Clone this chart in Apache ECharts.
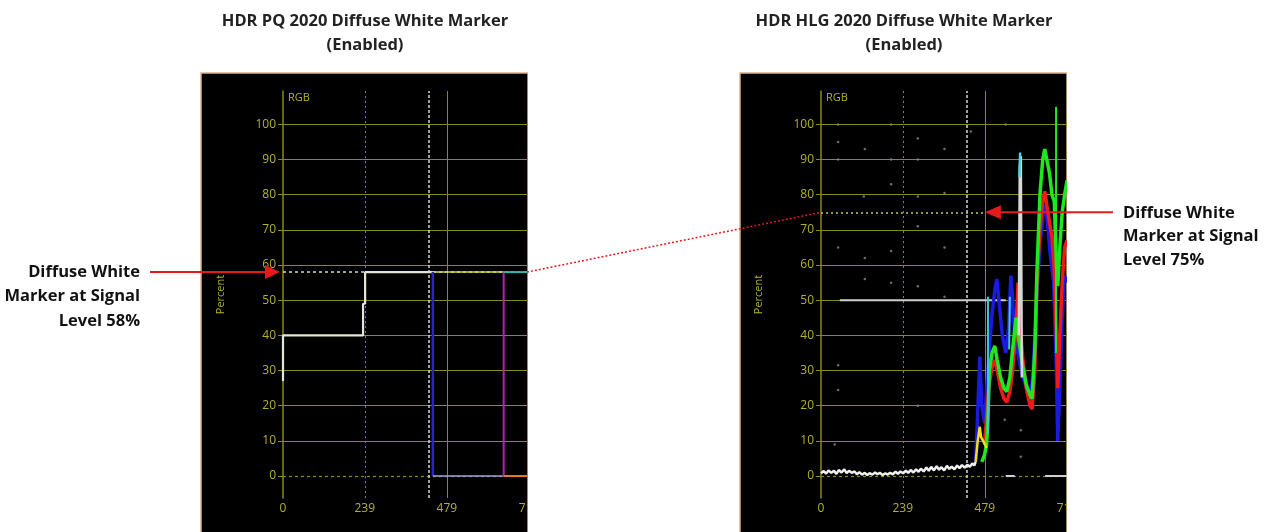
<!DOCTYPE html>
<html><head><meta charset="utf-8">
<script src="https://cdn.jsdelivr.net/npm/echarts@6/dist/echarts.min.js"></script>
<style>html,body{margin:0;padding:0;background:#fff}#c{width:1273px;height:532px}</style>
</head><body><div id="c"></div>
<script>
// ---- tick labels ----
const yTicks = [0,10,20,30,40,50,60,70,80,90,100];
const xTicks = [0,239,479,719];
const titles = [["HDR PQ 2020 Diffuse White Marker","(Enabled)"],["HDR HLG 2020 Diffuse White Marker","(Enabled)"]];
const notes = [["Diffuse White","Marker at Signal","Level 58%"],["Diffuse White","Marker at Signal","Level 75%"]];
const markerLevels = [58, 75];
const cursorX = 427;
const hlgMarkerEnd = 479;

// ---- PQ panel traces ----
const pqWhite = [[0,27],[0,40],[234,40],[234,49],[240,49],[240,58],[438,58]];
const pqYellow = [[438,58],[645,58]];
const pqBlueDrop = [[438,58],[438,0]];
const pqZero = [[438,0],[645,0]];
const pqMagentaDrop = [[645,58],[645,0]];
const pqCyan = [[645,58],[719,58]];
const pqOrange = [[645,0],[719,0]];

// ---- HLG panel traces ----
const hlgWhiteLow = [[0,0.8],[8,1.4],[15,0.7],[22,1.6],[30,0.9],[38,1.5],[45,0.6],[52,1.7],[60,1.0],[68,1.9],[75,0.8],[82,1.5],[90,0.9],[98,1.3],[105,0.5],[112,1.1],[120,0.4],[128,0.9],[135,0.3],[142,0.8],[150,0.4],[158,1.0],[165,0.5],[172,0.9],[180,0.3],[188,0.8],[195,0.4],[202,0.9],[210,0.5],[218,1.2],[225,0.6],[232,1.3],[240,0.8],[248,1.5],[255,0.9],[262,1.7],[270,1.0],[278,1.9],[285,1.2],[292,2.1],[300,1.3],[308,2.4],[315,1.5],[322,2.6],[330,1.6],[338,2.8],[345,1.8],[352,2.5],[360,1.6],[368,2.9],[375,2.0],[382,2.7],[390,1.9],[398,3.0],[405,2.2],[412,3.1],[420,2.4],[428,3.2],[435,2.6],[442,3.6],[448,3.0],[452,4.0]];
const hlgWhite50 = [[55,50],[540,50]];
const hlgBlue = [[452,4],[458,18],[464,34],[470,20],[478,15],[485,26],[492,36],[500,46],[508,53],[514,56],[520,50],[530,40],[540,35],[548,42],[555,57],[560,50],[566,40],[575,35],[585,30],[600,25],[612,22],[620,30],[630,50],[640,66],[650,75],[656,77],[662,72],[670,63],[680,55],[688,30],[692,10],[698,25],[705,45],[712,57],[719,55]];
const hlgRed = [[478,9],[485,18],[490,25],[495,28],[500,31],[508,33],[515,30],[525,25],[535,22],[543,21],[552,24],[560,30],[570,42],[576,55],[580,45],[590,33],[600,25],[611,20],[617,19],[625,30],[631,55],[640,70],[648,78],[654,81],[660,77],[668,72],[675,68],[682,58],[688,40],[692,25],[698,40],[705,55],[712,65],[719,67]];
const hlgGreen = [[470,4],[478,6],[484,9],[488,16],[492,30],[500,35],[508,37],[515,33],[525,28],[535,25],[543,24],[552,28],[560,36],[570,45],[576,40],[590,31],[600,26],[611,23],[617,22],[625,36],[631,58],[640,80],[648,90],[654,93],[660,90],[668,86],[675,80],[682,78],[688,60],[692,54],[698,65],[705,75],[712,80],[719,84]];
const hlgGreenSpike = [[687,35],[687,105]];
const hlgYellow = [[452,4],[458,10],[464,14],[468,11],[474,10],[479,9],[484,8]];
const hlgCyan1 = [[488,12],[488,51]];
const hlgCyan2 = [[550,36],[552,51]];
const hlgWhiteSpike = [[578,40],[581,88],[584,91],[587,28]];
const hlgCyanTop = [[580,85],[582,92],[584,92]];
const hlgZeroDashes = [[540,0],[566,0],null,[655,0],[719,0]];
const hlgDots = [[50,100],[205,100],[540,100],[438,98],[50,95],[283,96],[50,90],[205,90],[283,90],[361,93],[128,93],[283,79.5],[125,79.5],[205,83],[361,80.5],[283,71],[50,65],[205,64],[361,65],[128,62],[205,55],[283,54],[128,56],[361,51],[50,24.5],[50,31.5],[283,20],[537,16],[40,9],[584,5.5],[584,13]];

const gridCol = '#8a8a18';
const labelCol = '#b4b22c';

const grids = [{left:283, top:91, width:246, height:407},{left:821, top:91, width:246, height:407}];

function axesFor(i){
  return {
    x: {gridIndex:i, type:'value', min:0, max:719,
        axisLine:{show:false, onZero:false}, axisTick:{show:false}, splitLine:{show:false},
        axisLabel:{customValues:xTicks, color:labelCol, fontSize:12, margin:5, fontFamily:'Open Sans'}},
    y: {gridIndex:i, type:'value', min:-6.25, max:109.5,
        axisLine:{show:true, onZero:false, lineStyle:{color:gridCol, width:1.5}},
        axisTick:{show:true, customValues:yTicks, length:5, lineStyle:{color:gridCol}},
        axisLabel:{customValues:yTicks, color:labelCol, fontSize:12, margin:7, fontFamily:'Open Sans'},
        splitLine:{show:false},
        name:'Percent', nameLocation:'middle', nameGap:57, nameRotate:90,
        nameTextStyle:{color:labelCol, fontSize:11, fontFamily:'Open Sans'}}
  };
}
const a0 = axesFor(0), a1 = axesFor(1);

function gridLines(i){
  const d = yTicks.filter(v=>v>0).map(v=>({yAxis:v, lineStyle:{color:gridCol, type:'solid', width:1}}));
  d.push({yAxis:0, lineStyle:{color:gridCol, type:[3,3], width:1.2}});
  d.push({xAxis:xTicks[1], lineStyle:{color:gridCol, type:[2,3], width:1}});
  d.push({xAxis:xTicks[2], lineStyle:{color:gridCol, type:'solid', width:1}});
  d.push({xAxis:xTicks[3], lineStyle:{color:gridCol, type:[2,3], width:1}});
  return {type:'line', xAxisIndex:i, yAxisIndex:i, data:[], z:1, silent:true,
    markLine:{z:1, symbol:'none', silent:true, animation:false, label:{show:false}, data:d}};
}
function overlayLines(i){
  const d = [{xAxis:cursorX, lineStyle:{color:'#d8d8d8', type:[3,2], width:1.5}}];
  if(i===0) d.push({yAxis:markerLevels[0], lineStyle:{color:'#dcdcb0', type:[3,3], width:1.5}});
  else d.push([{coord:[0,markerLevels[1]], lineStyle:{color:'#c8c860', type:[2,3], width:1.5}},{coord:[hlgMarkerEnd,markerLevels[1]]}]);
  return {type:'line', xAxisIndex:i, yAxisIndex:i, data:[], z:2, silent:true,
    markLine:{z:2, symbol:'none', silent:true, animation:false, label:{show:false}, data:d}};
}
function trace(i, data, color, width, z){
  return {type:'line', xAxisIndex:i, yAxisIndex:i, data:data, symbol:'none', z:z||3,
    connectNulls:false, lineStyle:{color:color, width:width||2}, silent:true};
}

const series = [
  gridLines(0), gridLines(1), overlayLines(0), overlayLines(1),
  trace(0, pqWhite, '#e6e6d8', 2.2),
  trace(0, pqYellow, '#d8d850', 1.5),
  trace(0, pqBlueDrop, '#2626c8', 2.5),
  trace(0, pqZero, '#a0a0d8', 1.5),
  trace(0, pqMagentaDrop, '#b024b0', 2),
  trace(0, pqCyan, '#30b4b4', 2),
  trace(0, pqOrange, '#e87820', 2),
  {type:'scatter', xAxisIndex:1, yAxisIndex:1, data:hlgDots, symbolSize:2.5, itemStyle:{color:'#8a8a8a'}, silent:true, z:2},
  trace(1, hlgZeroDashes, '#cfcfcf', 2),
  trace(1, hlgWhite50, '#cfcfcf', 2),
  trace(1, hlgWhiteLow, '#f0f0f0', 2.5),
  trace(1, hlgBlue, '#1a1ae0', 3.5),
  trace(1, hlgRed, '#f01818', 3.5, 4),
  trace(1, hlgGreen, '#1ee81e', 3.5, 5),
  trace(1, hlgGreenSpike, '#1ee81e', 2, 5),
  trace(1, hlgYellow, '#f0e020', 2.5, 6),
  trace(1, hlgCyan1, '#40c8d8', 2, 6),
  trace(1, hlgCyan2, '#40c8d8', 2, 6),
  trace(1, hlgWhiteSpike, '#d8d8d8', 2.5, 6),
  trace(1, hlgCyanTop, '#50d0e0', 2.5, 7)
];

const chart = echarts.init(document.getElementById('c'), null, {renderer:'canvas'});
chart.setOption({
  animation:false, backgroundColor:'#ffffff',
  grid: grids,
  xAxis:[a0.x, a1.x], yAxis:[a0.y, a1.y],
  series: series
});

// annotations positioned from the chart's own scales
const pL = chart.convertToPixel({gridIndex:0}, [0, markerLevels[0]]);
const pLr = chart.convertToPixel({gridIndex:0}, [712, markerLevels[0]]);
const pR = chart.convertToPixel({gridIndex:1}, [0, markerLevels[1]]);
const pRt = chart.convertToPixel({gridIndex:1}, [hlgMarkerEnd, markerLevels[1]]);
const red = '#e51b1b';
const titleFont = 'bold 16.5px "Open Sans", sans-serif';
const noteFont = 'bold 16.5px "Open Sans", sans-serif';
const panelLeft = [201, 740];
const g = [];
panelLeft.forEach((x,i)=>{
  g.push({type:'rect', z:-10, shape:{x:x, y:73, width:327, height:480}, style:{fill:'#000', stroke:'#d9b38a', lineWidth:1.5}});
  g.push({type:'rect', z:50, shape:{x:x+327, y:65, width:16, height:480}, style:{fill:'#fff'}});
  g.push({type:'text', z:50, x: (i===0?283:821)+5, y:98, style:{text:'RGB', fill:labelCol, font:'11px "Open Sans", sans-serif', textVerticalAlign:'middle'}});
  g.push({type:'text', z:50, x: x+164, y:21, style:{text:titles[i][0], fill:'#222', font:titleFont, textAlign:'center', textVerticalAlign:'middle'}});
  g.push({type:'text', z:50, x: x+164, y:45, style:{text:titles[i][1], fill:'#222', font:titleFont, textAlign:'center', textVerticalAlign:'middle'}});
});
notes[0].forEach((t,k)=>g.push({type:'text', z:60, x:140, y:272+k*24.5, style:{text:t, fill:'#111', font:noteFont, textAlign:'right', textVerticalAlign:'middle'}}));
notes[1].forEach((t,k)=>g.push({type:'text', z:60, x:1123, y:213+k*23.5, style:{text:t, fill:'#111', font:noteFont, textAlign:'left', textVerticalAlign:'middle'}}));
// left arrow
g.push({type:'line', z:60, shape:{x1:150, y1:pL[1], x2:pL[0]-14, y2:pL[1]}, style:{stroke:red, lineWidth:2}});
g.push({type:'polygon', z:60, shape:{points:[[pL[0]-18,pL[1]-7],[pL[0]-3,pL[1]],[pL[0]-18,pL[1]+7]]}, style:{fill:red}});
// right arrow
g.push({type:'line', z:60, shape:{x1:1113, y1:pRt[1], x2:pRt[0]+14, y2:pRt[1]}, style:{stroke:red, lineWidth:2}});
g.push({type:'polygon', z:60, shape:{points:[[pRt[0]+16,pRt[1]-7],[pRt[0],pRt[1]],[pRt[0]+16,pRt[1]+7]]}, style:{fill:red}});
// connecting dotted line
g.push({type:'line', z:60, shape:{x1:527, y1:pLr[1], x2:pR[0], y2:pR[1]}, style:{stroke:red, lineWidth:1.5, lineDash:[2,2]}});
chart.setOption({graphic:{elements:g}});
</script></body></html>
